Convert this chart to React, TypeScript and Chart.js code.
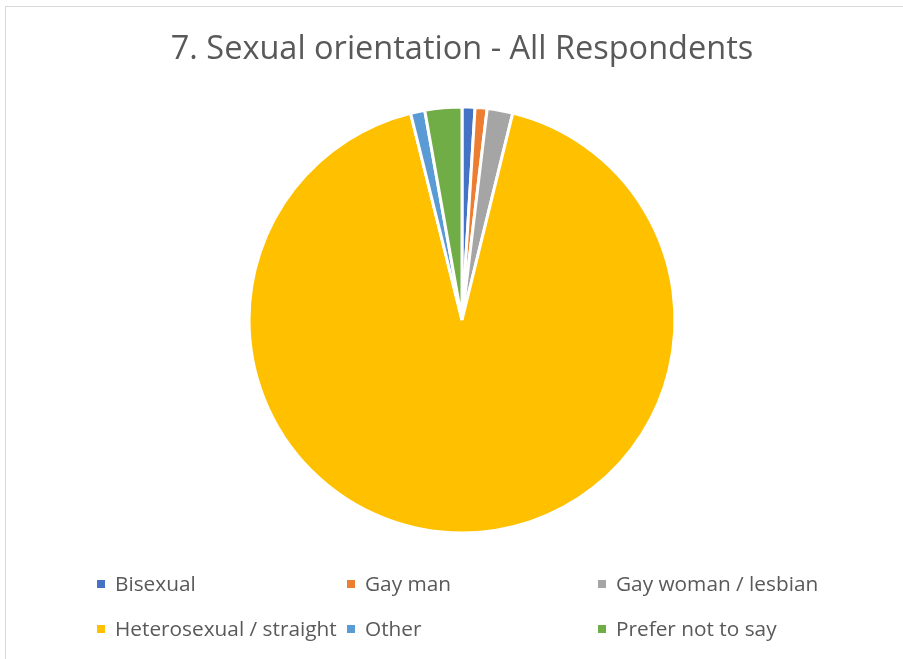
import React, { useEffect, useRef } from "react";
import { Chart, registerables } from "chart.js";

Chart.register(...registerables);

const TITLE = "7. Sexual orientation - All Respondents";
const categories = [
  "Bisexual",
  "Gay man",
  "Gay woman / lesbian",
  "Heterosexual / straight",
  "Other",
  "Prefer not to say",
];
const percentages = [0.98, 0.91, 1.94, 92.3, 1.08, 2.8];
const sliceColors = ["#4472C4", "#ED7D31", "#A5A5A5", "#FFC000", "#5B9BD5", "#70AD47"];

// legend grid: 3 columns x 2 rows (Excel-style)
const legendColsX = [97, 347, 598];
const legendRowsY = [584, 629];

const FONT = "'Open Sans', 'Liberation Sans', sans-serif";
const TEXT_COLOR = "#595959";

const gridLegend = {
  id: "gridLegend",
  afterDraw(chart: any) {
    const ctx = chart.ctx;
    const labels: string[] = chart.data.labels;
    const colors: string[] = chart.data.datasets[0].backgroundColor;
    ctx.save();
    ctx.font = `20.8px ${FONT}`;
    ctx.textBaseline = "middle";
    ctx.textAlign = "left";
    labels.forEach((lab, i) => {
      const col = i % 3;
      const row = Math.floor(i / 3);
      const x = legendColsX[col];
      const y = legendRowsY[row];
      ctx.fillStyle = colors[i];
      ctx.fillRect(x, y - 4, 8, 8);
      ctx.fillStyle = TEXT_COLOR;
      ctx.fillText(lab, x + 18, y + 1);
    });
    ctx.restore();
  },
};

export default function App() {
  const ref = useRef<HTMLCanvasElement | null>(null);
  useEffect(() => {
    if (!ref.current) return;
    const chart = new Chart(ref.current, {
      type: "pie",
      data: {
        labels: categories,
        datasets: [
          {
            data: percentages,
            backgroundColor: sliceColors,
            borderColor: "#ffffff",
            borderWidth: 3,
            radius: 213,
          } as any,
        ],
      },
      options: {
        responsive: false,
        animation: false,
        layout: { padding: { left: 21, right: 0, top: 0, bottom: 98 } },
        plugins: {
          legend: { display: false },
          tooltip: { enabled: false },
          title: {
            display: true,
            text: TITLE,
            color: TEXT_COLOR,
            font: { family: FONT, size: 32.5, weight: "normal" as any, lineHeight: 1.2 },
            padding: { top: 30, bottom: 10 },
          },
        },
      },
      plugins: [gridLegend],
    });
    return () => chart.destroy();
  }, []);

  return (
    <div
      style={{
        position: "fixed",
        left: 0,
        top: 0,
        width: 903,
        height: 659,
        background: "#ffffff",
        overflow: "hidden",
      }}
    >
      <div
        style={{
          position: "absolute",
          left: 5,
          top: 6,
          width: 940,
          height: 700,
          border: "1px solid #d9d9d9",
          boxSizing: "border-box",
        }}
      />
      <canvas
        ref={ref}
        width={903}
        height={659}
        style={{ position: "absolute", left: 0, top: 0, display: "block" }}
      />
    </div>
  );
}
